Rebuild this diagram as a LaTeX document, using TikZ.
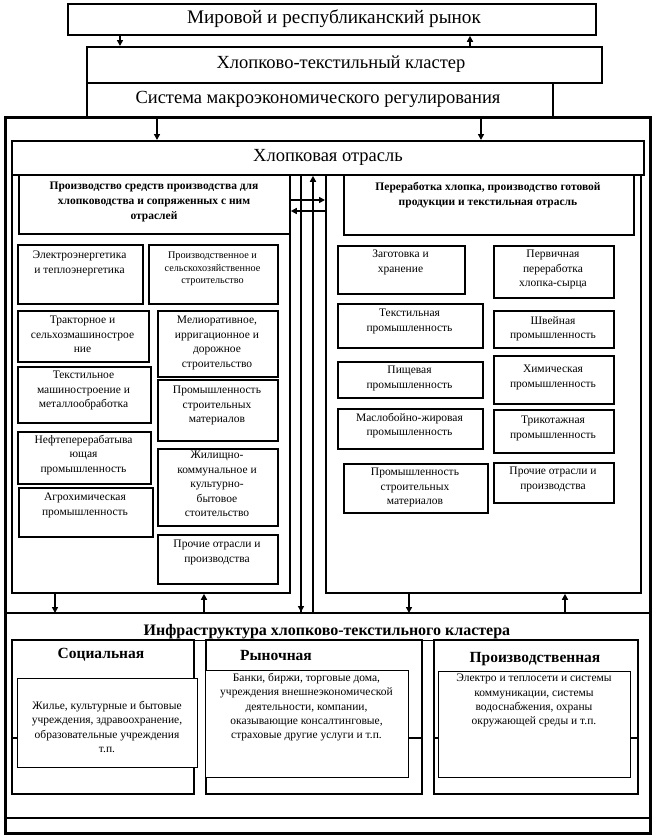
\documentclass[tikz,border=0pt]{standalone}
\usepackage{fontspec}
\setmainfont{Liberation Serif}
\usetikzlibrary{arrows.meta}
\newcommand\BX[6][box]{\pgfmathsetmacro\bxw{#5-#3}\pgfmathsetmacro\bxh{#6-#4}%
  \node[#1,minimum width=\bxw pt,minimum height=\bxh pt] (#2) at (#3,#4) {};}
\begin{document}
\begin{tikzpicture}[x=1pt,y=-1pt,
  box/.style={draw,line width=1.8pt,fill=white,inner sep=0pt,anchor=north west},
  thinbox/.style={draw,line width=0.9pt,fill=white,inner sep=0pt,anchor=north west},
  outerbox/.style={draw,line width=3pt,inner sep=0pt,anchor=north west},
  arr/.style={line width=1.5pt,-{Triangle[length=6pt,width=6pt]}},
  ln/.style={line width=1.8pt},
  big/.style={font=\fontsize{18.5}{22}\selectfont,inner sep=0pt},
  hdr/.style={font=\bfseries\fontsize{11.5}{15}\selectfont,align=center,inner sep=0pt},
  sub/.style={font=\fontsize{11.5}{14.5}\selectfont,align=center,inner sep=0pt,anchor=north},
  subs/.style={font=\fontsize{10.2}{12.2}\selectfont,align=center,inner sep=0pt,anchor=north},
  bhd/.style={font=\bfseries\fontsize{15.5}{18}\selectfont,inner sep=0pt},
  btx/.style={font=\fontsize{11.5}{14.3}\selectfont,align=center,inner sep=0pt,anchor=north}]
\useasboundingbox (0,0) rectangle (653,836);
% named coordinates for columns/rows
\coordinate (x55) at (55,0); \coordinate (x120) at (120,0); \coordinate (x157) at (157,0);
\coordinate (x204) at (204,0); \coordinate (x301) at (301,0); \coordinate (x313) at (313,0);
\coordinate (x409) at (409,0); \coordinate (x470) at (470,0); \coordinate (x481) at (481,0);
\coordinate (x565) at (565,0);
\coordinate (y200) at (0,200); \coordinate (y211) at (0,211);
\coordinate (y613) at (0,613); \coordinate (y818) at (0,818); \coordinate (y738) at (0,738);

% top boxes
\BX{mkt}{67}{3}{595}{34}
\node[big,font=\fontsize{19.2}{22}\selectfont] (tmkt) at (334,18.5) {Мировой и республиканский рынок};
\BX{sys}{86}{82}{552}{116}
\BX{clu}{86}{46}{601}{82}
\node[big] (tclu) at (341,64) {Хлопково-текстильный кластер};
\node[big] (tsys) at (318,99) {Система макроэкономического регулирования};
\draw[arr] (mkt.south -| x120) -- (clu.north -| x120);
\draw[arr] (clu.north -| x470) -- (mkt.south -| x470);

% outer frame
\BX[outerbox]{outer}{4}{116}{649}{832}
\BX{otr}{11}{140}{643}{174}
\node[big] (totr) at (328,157) {Хлопковая отрасль};
\draw[arr] (sys.south -| x157) -- (otr.north -| x157);
\draw[arr] (sys.south -| x481) -- (otr.north -| x481);

% panels
\BX{lp}{11}{174}{289}{592}
\BX{rp}{325}{174}{640}{592}
\BX{lh}{18}{174}{289}{233}
\node[hdr] (tlh) at (154,202) {Производство средств производства для\\хлопководства и сопряженных с ним\\отраслей};
\BX{rh}{343}{174}{633}{234}
\node[hdr] (trh) at (488,195.5) {Переработка хлопка, производство готовой\\продукции и текстильная отрасль};

% middle connectors
\draw[ln] (otr.south -| x301) -- (x301 |- y613);
\draw[arr] (otr.south -| x301) -- ([yshift=1pt]x301 |- y613);
\draw[arr] (x313 |- y613) -- (otr.south -| x313);
\draw[arr] (lp.east |- y200) -- (rp.west |- y200);
\draw[arr] (rp.west |- y211) -- (lp.east |- y211);

% left sub-boxes
\BX{l1}{17}{244}{142}{303}
\node[sub] (tl1) at (79.5,251) {Электроэнергетика\\и теплоэнергетика};
\BX{l2}{148}{244}{277}{303}
\node[subs] (tl2) at (212.5,252) {Производственное и\\сельскохозяйственное\\строительство};
\BX{l3}{17}{310}{148}{361}
\node[sub] (tl3) at (82.5,316) {Тракторное и\\сельхозмашинострое\\ние};
\BX{l4}{157}{310}{277}{376}
\node[sub] (tl4) at (217,316) {Мелиоративное,\\ирригационное и\\дорожное\\строительство};
\BX{l5}{17}{366}{150}{422}
\node[sub] (tl5) at (83.5,371) {Текстильное\\машиностроение и\\металлообработка};
\BX{l6}{157}{379}{277}{440}
\node[sub] (tl6) at (217,386) {Промышленность\\строительных\\материалов};
\BX{l7}{17}{431}{150}{483}
\node[sub] (tl7) at (83.5,435) {Нефтеперерабатыва\\ющая\\промышленность};
\BX{l8}{157}{448}{277}{525}
\node[sub] (tl8) at (217,451) {Жилищно-\\коммунальное и\\культурно-\\бытовое\\стоительство};
\BX{l9}{18}{487}{152}{536}
\node[sub] (tl9) at (85,493) {Агрохимическая\\промышленность};
\BX{l10}{157}{534}{277}{583}
\node[sub] (tl10) at (217,540) {Прочие отрасли и\\производства};

% right sub-boxes
\BX{r1}{337}{245}{464}{293}
\node[sub] (tr1) at (400.5,250) {Заготовка и\\хранение};
\BX{r2}{493}{245}{613}{297}
\node[sub] (tr2) at (553,250) {Первичная\\переработка\\хлопка-сырца};
\BX{r3}{337}{303}{482}{347}
\node[sub] (tr3) at (409.5,309) {Текстильная\\промышленность};
\BX{r4}{493}{310}{613}{347}
\node[sub] (tr4) at (553,316) {Швейная\\промышленность};
\BX{r5}{337}{361}{482}{397}
\node[sub] (tr5) at (409.5,366) {Пищевая\\промышленность};
\BX{r6}{493}{355}{613}{403}
\node[sub] (tr6) at (553,365) {Химическая\\промышленность};
\BX{r7}{337}{408}{482}{448}
\node[sub] (tr7) at (409.5,413) {Маслобойно-жировая\\промышленность};
\BX{r8}{493}{409}{613}{452}
\node[sub] (tr8) at (553,416) {Трикотажная\\промышленность};
\BX{r9}{343}{463}{487}{512}
\node[sub] (tr9) at (415,468) {Промышленность\\строительных\\материалов};
\BX{r10}{493}{462}{613}{502}
\node[sub] (tr10) at (553,467) {Прочие отрасли и\\производства};

% panel to infrastructure arrows
\draw[ln] (outer.west |- y613) -- (outer.east |- y613);
\draw[arr] (lp.south -| x55) -- (x55 |- y613);
\draw[arr] (x204 |- y613) -- (lp.south -| x204);
\draw[arr] (rp.south -| x409) -- (x409 |- y613);
\draw[arr] (x565 |- y613) -- (rp.south -| x565);
\draw[ln] (outer.west |- y818) -- (outer.east |- y818);

% infrastructure
\BX{soc}{11}{639}{193}{793}
\BX{rnk}{205}{639}{421}{793}
\BX{prd}{433}{639}{637}{793}
\draw[ln] (soc.west |- y738) -- (soc.east |- y738);
\draw[ln] (rnk.west |- y738) -- (rnk.east |- y738);
\draw[ln] (prd.west |- y738) -- (prd.east |- y738);
\node[font=\bfseries\fontsize{16}{18}\selectfont,inner sep=0pt,anchor=base] (tinf) at (327,635) {\underline{Инфраструктура хлопково-текстильного кластера}};
\node[bhd] (tsoc) at (101,655) {Социальная};
\node[bhd] (trnk) at (276,655) {Рыночная};
\node[bhd] (tprd) at (535,659) {Производственная};
\BX[thinbox]{isoc}{17}{678}{197}{767}
\node[btx] (tisoc) at (107,701) {Жилье, культурные и бытовые\\учреждения, здравоохранение,\\образовательные учреждения\\т.п.};
\BX[thinbox]{irnk}{205}{670}{408}{777}
\node[btx] (tirnk) at (306.5,673) {Банки, биржи, торговые дома,\\учреждения внешнеэкономической\\деятельности, компании,\\оказывающие консалтинговые,\\страховые другие услуги и т.п.};
\BX[thinbox]{iprd}{438}{671}{630}{777}
\node[btx] (tiprd) at (534,674) {Электро и теплосети и системы\\коммуникации, системы\\водоснабжения, охраны\\окружающей среды и т.п.};
\end{tikzpicture}
\end{document}
